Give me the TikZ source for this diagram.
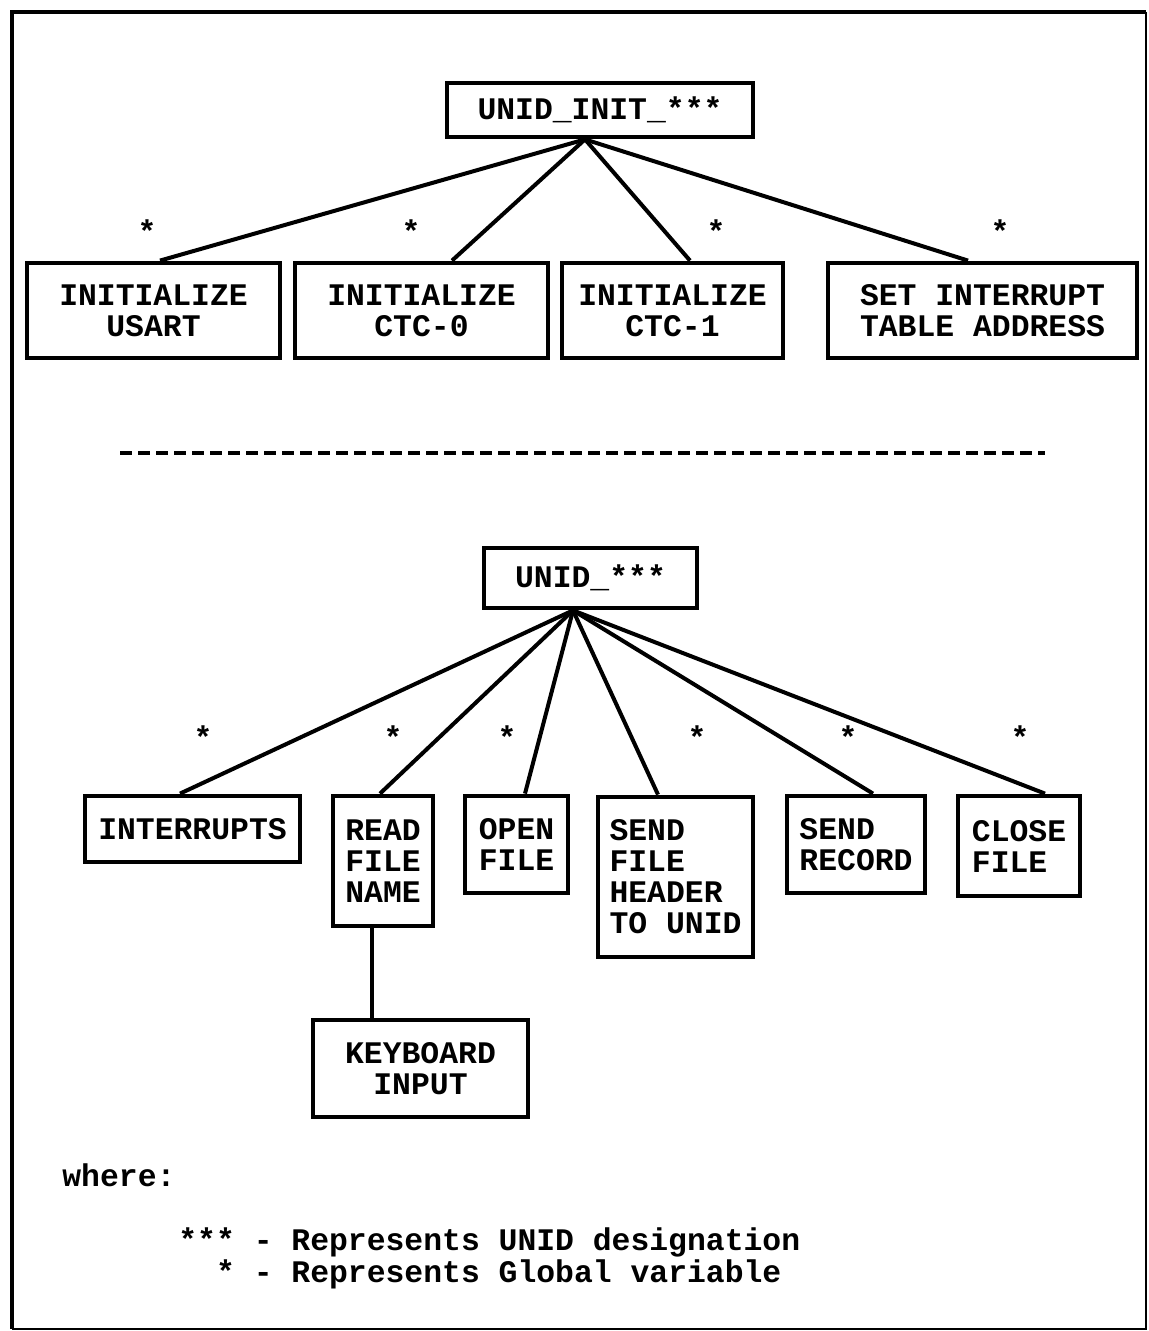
\documentclass[tikz,border=0pt]{standalone}
\usepackage{fontspec}
\setmonofont{Liberation Mono}
\usetikzlibrary{calc}

\begin{document}
\begin{tikzpicture}[x=0.5pt, y=-0.5pt,
  every node/.style={font=\ttfamily\bfseries\fontsize{15.7}{15.5}\selectfont, inner sep=0pt},
  box/.style={draw, line width=2.4pt, align=center},
  link/.style={line width=2pt}]
\useasboundingbox (0,0) rectangle (1148,1331);
% frame
\draw[line width=2.2pt] (1146,12) -- (12,12) -- (12,1329);
\draw[line width=1pt] (12,1329) -- (1146,1329) -- (1146,12);

% upper tree
\node[box, minimum width=153pt, minimum height=27pt] (init) at (600,110) {UNID\_INIT\_***};
\node[box, minimum width=126.5pt, minimum height=47.5pt] (usart) at (153.5,310.5) {INITIALIZE\\USART};
\node[box, minimum width=126.5pt, minimum height=47.5pt] (ctc0) at (421.5,310.5) {INITIALIZE\\CTC-0};
\node[box, minimum width=110.5pt, minimum height=47.5pt] (ctc1) at (672.5,310.5) {INITIALIZE\\CTC-1};
\node[box, minimum width=154.5pt, minimum height=47.5pt] (setint) at (982.5,310.5) {SET INTERRUPT\\TABLE ADDRESS};
\node[anchor=base] (g1) at (147,243) {*};
\node[anchor=base] (g2) at (411,243) {*};
\node[anchor=base] (g3) at (716,243) {*};
\node[anchor=base] (g4) at (1000,243) {*};
\coordinate (hubA) at ($(init.south)+(-15,0)$);
\draw[link] (hubA) -- ($(usart.north)+(6.5,0)$);
\draw[link] (hubA) -- ($(ctc0.north)+(30.5,0)$);
\draw[link] (hubA) -- ($(ctc1.north)+(17.5,0)$);
\draw[link] (hubA) -- ($(setint.north)+(-14.5,0)$);

\draw[line width=2.4pt, dash pattern=on 6pt off 3pt] (120,453) -- (1045,453);

% lower tree
\node[box, minimum width=106.5pt, minimum height=30pt] (unid) at (590.5,578) {UNID\_***};
\node[box, minimum width=107.5pt, minimum height=33pt] (intr) at (192.5,829) {INTERRUPTS};
\node[box, align=left, minimum width=50pt, minimum height=65pt] (readfn) at (383,861) {READ\\FILE\\NAME};
\node[box, align=left, minimum width=51.5pt, minimum height=48.5pt] (openf) at (516.5,844.5) {OPEN\\FILE};
\node[box, align=left, minimum width=77.5pt, minimum height=80pt] (sendhdr) at (675.5,877) {SEND\\FILE\\HEADER\\TO UNID};
\node[box, align=left, minimum width=69pt, minimum height=48.5pt] (sendrec) at (856,844.5) {SEND\\RECORD};
\node[box, align=left, minimum width=61pt, minimum height=50pt] (closef) at (1019,846) {CLOSE\\FILE};
\node[box, minimum width=107.5pt, minimum height=48.5pt] (kbd) at (420.5,1068.5) {KEYBOARD\\INPUT};
\node[anchor=base] (h1) at (203,748) {*};
\node[anchor=base] (h2) at (393,748) {*};
\node[anchor=base] (h3) at (507,748) {*};
\node[anchor=base] (h4) at (697,748) {*};
\node[anchor=base] (h5) at (848,748) {*};
\node[anchor=base] (h6) at (1020,748) {*};
\coordinate (hubB) at ($(unid.south)+(-17.5,0)$);
\draw[link] (hubB) -- ($(intr.north)+(-12.5,0)$);
\draw[link] (hubB) -- ($(readfn.north)+(-3,0)$);
\draw[link] (hubB) -- ($(openf.north)+(8.5,0)$);
\draw[link] (hubB) -- ($(sendhdr.north)+(-17.5,0)$);
\draw[link] (hubB) -- ($(sendrec.north)+(17,0)$);
\draw[link] (hubB) -- ($(closef.north)+(26,0)$);
\draw[link] ($(readfn.south)+(-11,0)$) -- ($(kbd.north)+(-48.5,0)$);

% legend
\node[anchor=base west] (where) at (62,1186) {where:};
\node[anchor=base west] (leg1) at (178,1250) {*** - Represents UNID designation};
\node[anchor=base west] (leg2) at (178,1282) {\hphantom{**}* - Represents Global variable};
\end{tikzpicture}
\end{document}
